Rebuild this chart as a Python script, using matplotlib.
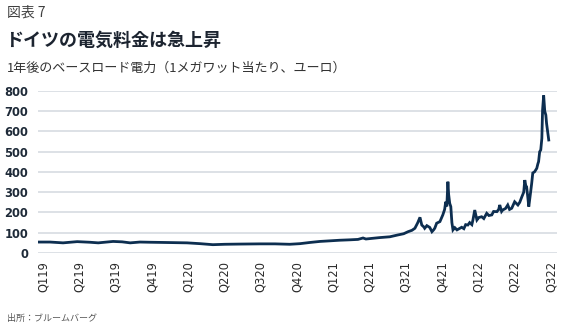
import matplotlib.pyplot as plt

plt.rcParams["font.family"] = ["Noto Sans CJK JP", "DejaVu Sans"]

# position on the x axis in quarters (0 = Q119), price in EUR/MWh
quarter = [
    -0.14, 0.19, 0.55, 0.94, 1.29, 1.52, 1.93, 2.18, 2.40, 2.67,
    2.95, 3.31, 3.64, 3.97, 4.33, 4.68, 5.01, 5.43, 5.98, 6.39,
    6.80, 7.08, 7.36, 7.63, 7.91, 8.18, 8.46, 8.68, 8.82, 8.90,
    9.06, 9.28, 9.56, 9.78, 9.94, 10.06, 10.17, 10.25, 10.33, 10.39,
    10.44, 10.50, 10.52, 10.58, 10.66, 10.72, 10.77, 10.80, 10.85, 10.94,
    11.02, 11.07, 11.10, 11.13, 11.16, 11.18, 11.21, 11.24, 11.27, 11.30,
    11.35, 11.41, 11.49, 11.54, 11.60, 11.65, 11.71, 11.76, 11.82, 11.85,
    11.90, 11.96, 12.01, 12.09, 12.15, 12.23, 12.29, 12.37, 12.42, 12.51,
    12.56, 12.59, 12.64, 12.67, 12.75, 12.81, 12.86, 12.92, 13.00, 13.09,
    13.14, 13.20, 13.25, 13.28, 13.31, 13.33, 13.36, 13.39, 13.44, 13.47,
    13.50, 13.55, 13.61, 13.64, 13.66, 13.69, 13.72, 13.75, 13.77, 13.80,
    13.83, 13.86, 13.88, 13.94,
]
price = [
    54, 54, 50, 56, 53, 50, 57, 55, 50, 54,
    53, 52, 51, 50, 46, 41, 43, 44, 45, 45,
    43, 46, 52, 57, 60, 63, 65, 67, 74, 69,
    72, 76, 80, 89, 95, 105, 112, 122, 150, 176,
    138, 128, 122, 135, 126, 105, 115, 123, 147, 155,
    188, 215, 253, 230, 352, 290, 245, 229, 150, 114,
    125, 114, 122, 127, 120, 140, 138, 150, 140, 163,
    212, 163, 175, 179, 170, 196, 185, 188, 205, 204,
    215, 237, 205, 212, 220, 237, 215, 221, 253, 237,
    250, 278, 300, 360, 330, 327, 280, 229, 300, 344,
    395, 401, 418, 440, 451, 500, 509, 566, 706, 778,
    700, 681, 640, 558,
]

tick_labels = ["Q119", "Q219", "Q319", "Q419", "Q120", "Q220", "Q320", "Q420",
               "Q121", "Q221", "Q321", "Q421", "Q122", "Q222", "Q322"]
y_ticks = [0, 100, 200, 300, 400, 500, 600, 700, 800]

navy = "#0d2e50"

fig = plt.figure(figsize=(5.7, 3.32), dpi=100)
ax = fig.add_axes([0.0667, 0.238, 0.91, 0.488])

ax.plot(quarter, price, color=navy, linewidth=2.0, solid_joinstyle="miter", zorder=3)

ax.set_xlim(-0.14, 14.16)
ax.set_ylim(0, 800)
ax.set_yticks(y_ticks)
ax.set_xticks(range(len(tick_labels)))
ax.set_xticklabels(tick_labels, rotation=90, fontsize=8.3, color="#2b2b2b",
                   family="DejaVu Sans")
for lab in ax.get_yticklabels():
    lab.set_fontweight("bold")
    lab.set_fontsize(8.3)
    lab.set_color("#1e2a38")
    lab.set_family("DejaVu Sans")

ax.tick_params(axis="both", length=0)
ax.tick_params(axis="y", pad=7)
ax.tick_params(axis="x", pad=6)
ax.grid(axis="y", color="#dde1e6", linewidth=1.4)
ax.set_axisbelow(True)
for s in ax.spines.values():
    s.set_visible(False)

fig.text(0.012, 0.963, "図表 7", fontsize=10, color="#404040", va="center")
fig.text(0.008, 0.878, "ドイツの電気料金は急上昇", fontsize=13, fontweight="bold",
         color="#1c2430", va="center")
fig.text(0.012, 0.795, "1年後のベースロード電力（1メガワット当たり、ユーロ）",
         fontsize=9.4, color="#333333", va="center")
fig.text(0.012, 0.042, "出所：ブルームバーグ", fontsize=6.5, color="#555555", va="center")

fig.savefig("out.png", dpi=100)
